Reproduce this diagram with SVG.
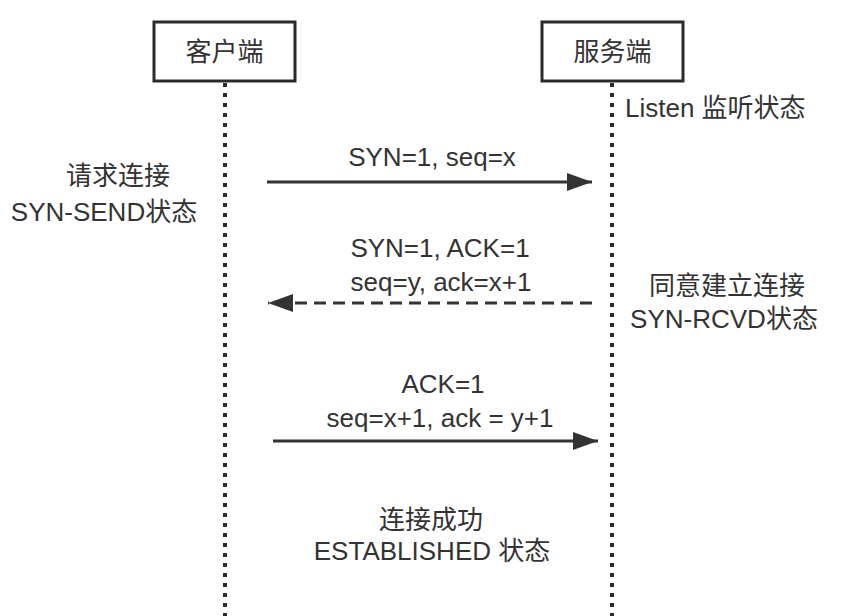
<svg xmlns="http://www.w3.org/2000/svg" width="846" height="616" viewBox="0 0 846 616">
<style>
text{font-family:"Liberation Sans","Noto Sans CJK SC",sans-serif;font-size:26px;fill:#333333}
.c{text-anchor:middle}
.box{fill:#ffffff;stroke:#2b2b2b;stroke-width:3}
.life{stroke:#2b2b2b;stroke-width:4;stroke-dasharray:4 6;fill:none}
.msg{stroke:#333333;stroke-width:2.8;fill:none}
.dash{stroke-dasharray:12 7}
</style>
<defs>
<marker id="ah" markerUnits="userSpaceOnUse" markerWidth="27" markerHeight="19" refX="25" refY="9" orient="auto">
<path d="M0,0 L25,9 L0,18 Z" fill="#333333"/>
</marker>
</defs>
<rect width="846" height="616" fill="#ffffff"/>
<g id="lifelines">
<line class="life" x1="225" y1="83" x2="225" y2="616"/>
<line class="life" x1="612" y1="83" x2="612" y2="616"/>
</g>
<g id="client">
<rect class="box" x="154" y="22" width="141" height="59"/>
<text class="c" x="224.5" y="61">客户端</text>
</g>
<g id="server">
<rect class="box" x="542" y="22" width="141" height="59"/>
<text class="c" x="612.5" y="61">服务端</text>
</g>
<g id="connectors">
<line class="msg" x1="267" y1="182" x2="592" y2="182" marker-end="url(#ah)"/>
<line class="msg dash" x1="592" y1="303" x2="268" y2="303" marker-end="url(#ah)"/>
<line class="msg" x1="273" y1="441" x2="598" y2="441" marker-end="url(#ah)"/>
</g>
<g id="labels">
<text x="625" y="117">Listen 监听状态</text>
<text class="c" x="118" y="185">请求连接</text>
<text class="c" x="104" y="221">SYN-SEND状态</text>
<text class="c" x="432" y="166">SYN=1, seq=x</text>
<text class="c" x="440" y="257">SYN=1, ACK=1</text>
<text class="c" x="441" y="291">seq=y, ack=x+1</text>
<text class="c" x="727" y="295">同意建立连接</text>
<text class="c" x="724" y="328">SYN-RCVD状态</text>
<text class="c" x="443" y="393">ACK=1</text>
<text class="c" x="440" y="427">seq=x+1, ack = y+1</text>
<text class="c" x="431" y="529">连接成功</text>
<text class="c" x="432" y="560">ESTABLISHED 状态</text>
</g>
</svg>
